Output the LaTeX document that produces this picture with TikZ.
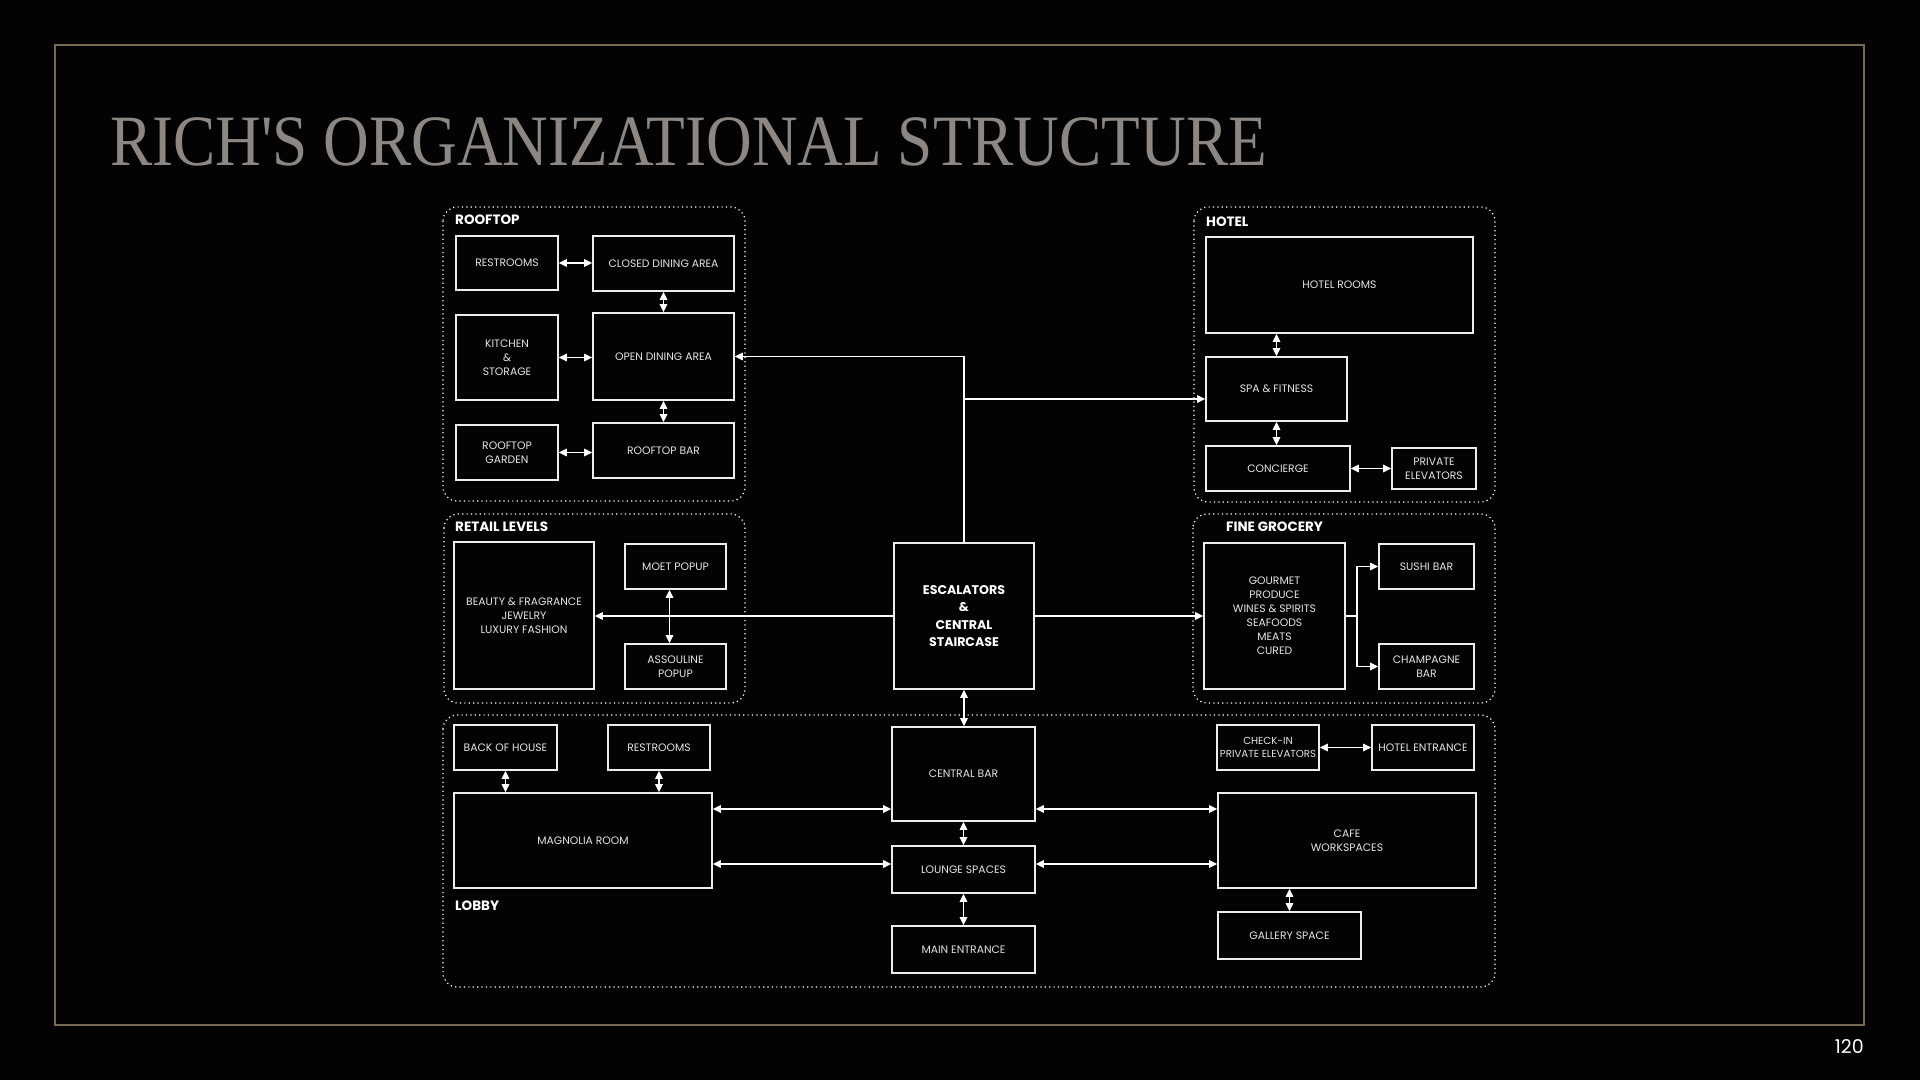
\documentclass[tikz,border=0pt]{standalone}
\usepackage{fontspec}
\setmainfont{Poppins}
\newfontfamily\titlefont{Liberation Serif}
\usetikzlibrary{arrows.meta,calc}
\definecolor{bg}{HTML}{030303}
\definecolor{framecol}{HTML}{766A55}
\definecolor{titlegray}{HTML}{8C8782}
\definecolor{boxline}{HTML}{EDEDED}
\definecolor{boxtext}{HTML}{E4E4E4}
\tikzset{
  box/.style={draw=boxline, line width=1.6pt, fill=bg, text=boxtext, font=\fontsize{10.8}{14}\selectfont, align=center, inner sep=0pt},
  grp/.style={draw=white, line width=1.2pt, dash pattern=on 1.2pt off 3.2pt, rounded corners=14pt},
  lnk/.style={draw=white, line width=1.4pt},
  arr/.style={lnk, -{Triangle[length=8pt,width=7.5pt]}},
  darr/.style={lnk, {Triangle[length=8pt,width=7.5pt]}-{Triangle[length=8pt,width=7.5pt]}},
  glabel/.style={font=\fontsize{13.5}{15}\selectfont\bfseries, text=white, anchor=west, inner sep=0pt},
}
\begin{document}
\begin{tikzpicture}[x=1pt,y=-1pt]
\path[use as bounding box, fill=bg] (0,0) rectangle (1920,1080);
\draw[framecol, line width=2pt] (55,45) rectangle (1864,1025);
\node[anchor=base west, inner sep=0pt, text=titlegray] (title) at (110,165)
  {\scalebox{0.91}[1.04]{\titlefont\fontsize{69.5}{70}\selectfont RICH'S ORGANIZATIONAL STRUCTURE}};
\node[anchor=east, inner sep=0pt, text=white, font=\fontsize{19}{22}\selectfont] (pnum) at (1864,1046) {120};

% groups
\draw[grp] (443,207) rectangle (745,501);
\draw[grp] (1194,207) rectangle (1495,502);
\draw[grp] (444,514) rectangle (745,703);
\draw[grp] (1193,514) rectangle (1495,703);
\draw[grp] (443,715) rectangle (1495,987);
\node[glabel] (lroof) at (455,220) {ROOFTOP};
\node[glabel] (lhotel) at (1206,222) {HOTEL};
\node[glabel] (lretail) at (455,527) {RETAIL LEVELS};
\node[glabel] (lgroc) at (1226,527) {FINE GROCERY};
\node[glabel] (llobby) at (455,906) {LOBBY};

% rooftop
\node[box, minimum width=102pt, minimum height=54pt] (rrest) at (507,263) {RESTROOMS};
\node[box, minimum width=141pt, minimum height=55pt] (rclosed) at (663.5,263.5) {CLOSED DINING AREA};
\node[box, minimum width=102pt, minimum height=85pt] (rkitchen) at (507,357.5) {KITCHEN\\\&\\STORAGE};
\node[box, minimum width=141pt, minimum height=87pt] (ropen) at (663.5,356.5) {OPEN DINING AREA};
\node[box, minimum width=102pt, minimum height=55pt] (rgarden) at (507,452.5) {ROOFTOP\\GARDEN};
\node[box, minimum width=141pt, minimum height=55pt] (rbar) at (663.5,450.5) {ROOFTOP BAR};

% hotel
\node[box, minimum width=267pt, minimum height=96pt] (hrooms) at (1339.5,285) {HOTEL ROOMS};
\node[box, minimum width=141pt, minimum height=64pt] (hspa) at (1276.5,389) {SPA \& FITNESS};
\node[box, minimum width=144pt, minimum height=45pt] (hconc) at (1278,468.5) {CONCIERGE};
\node[box, minimum width=84pt, minimum height=41pt] (helev) at (1434,468.5) {PRIVATE\\ELEVATORS};

% retail
\node[box, minimum width=140pt, minimum height=147pt] (rbeauty) at (524,615.5) {BEAUTY \& FRAGRANCE\\JEWELRY\\LUXURY FASHION};
\node[box, minimum width=101pt, minimum height=45pt] (rmoet) at (675.5,566.5) {MOET POPUP};
\node[box, minimum width=101pt, minimum height=45pt] (rassou) at (675.5,666.5) {ASSOULINE\\POPUP};

% escalators
\node[box, minimum width=140pt, minimum height=146pt, font=\fontsize{12.6}{17.5}\selectfont\bfseries, text=white] (esc) at (964,616) {ESCALATORS\\\&\\CENTRAL\\STAIRCASE};

% grocery
\node[box, minimum width=141pt, minimum height=146pt] (ggour) at (1274.5,616) {GOURMET\\PRODUCE\\WINES \& SPIRITS\\SEAFOODS\\MEATS\\CURED};
\node[box, minimum width=95pt, minimum height=45pt] (gsushi) at (1426.5,566.5) {SUSHI BAR};
\node[box, minimum width=95pt, minimum height=45pt] (gchamp) at (1426.5,666.5) {CHAMPAGNE\\BAR};

% lobby
\node[box, minimum width=103pt, minimum height=45pt] (lback) at (505.5,747.5) {BACK OF HOUSE};
\node[box, minimum width=102pt, minimum height=45pt] (lrest) at (659,747.5) {RESTROOMS};
\node[box, minimum width=258pt, minimum height=95pt] (lmag) at (583,840.5) {MAGNOLIA ROOM};
\node[box, minimum width=143pt, minimum height=94pt] (cbar) at (963.5,774) {CENTRAL BAR};
\node[box, minimum width=143pt, minimum height=47pt] (clounge) at (963.5,869.5) {LOUNGE SPACES};
\node[box, minimum width=143pt, minimum height=47pt] (cmain) at (963.5,949.5) {MAIN ENTRANCE};
\node[box, minimum width=102pt, minimum height=45pt, font=\fontsize{10.2}{13.5}\selectfont] (lcheck) at (1268,747.5) {CHECK-IN\\PRIVATE ELEVATORS};
\node[box, minimum width=102pt, minimum height=45pt] (lhotent) at (1423,747.5) {HOTEL ENTRANCE};
\node[box, minimum width=258pt, minimum height=95pt] (lcafe) at (1347,840.5) {CAFE\\WORKSPACES};
\node[box, minimum width=143pt, minimum height=47pt] (lgallery) at (1289.5,935.5) {GALLERY SPACE};

% rooftop links
\draw[darr] (rrest.east) -- (rrest.east -| rclosed.west);
\draw[darr] (rclosed.south) -- (rclosed.south |- ropen.north);
\draw[darr] (rkitchen.east) -- (rkitchen.east -| ropen.west);
\draw[darr] (ropen.south) -- (ropen.south |- rbar.north);
\draw[darr] (rgarden.east) -- (rgarden.east -| rbar.west);

% hotel links
\draw[darr] (hspa.north) -- (hspa.north |- hrooms.south);
\draw[darr] (hspa.south) -- (hspa.south |- hconc.north);
\draw[darr] (hconc.east) -- (hconc.east -| helev.west);

% escalator links
\coordinate (spaIn) at ([yshift=-10pt]hspa.west);
\draw[arr] (esc.north) |- (ropen.east);
\draw[arr] (esc.north |- spaIn) -- (spaIn);
\draw[arr] (esc.west) -- (esc.west -| rbeauty.east);
\draw[arr] (esc.east) -- (esc.east -| ggour.west);
\draw[darr] (esc.south) -- (esc.south |- cbar.north);

% retail
\draw[darr] ([xshift=-6pt]rmoet.south) -- ([xshift=-6pt]rmoet.south |- rassou.north);

% grocery
\coordinate (fork) at ($(ggour.east)+(11pt,0)$);
\draw[lnk] (ggour.east) -- (fork);
\draw[arr] (fork) |- (gsushi.west);
\draw[arr] (fork) |- (gchamp.west);

% lobby
\coordinate (yA) at (0,809);
\coordinate (yB) at (0,864);
\draw[darr] (lback.south) -- (lback.south |- lmag.north);
\draw[darr] (lrest.south) -- (lrest.south |- lmag.north);
\draw[darr] (lmag.east |- yA) -- (cbar.west |- yA);
\draw[darr] (lmag.east |- yB) -- (clounge.west |- yB);
\draw[darr] (cbar.east |- yA) -- (lcafe.west |- yA);
\draw[darr] (clounge.east |- yB) -- (lcafe.west |- yB);
\draw[darr] (cbar.south) -- (cbar.south |- clounge.north);
\draw[darr] (clounge.south) -- (clounge.south |- cmain.north);
\draw[darr] (lcheck.east) -- (lcheck.east -| lhotent.west);
\draw[darr] (lgallery.north) -- (lgallery.north |- lcafe.south);
\end{tikzpicture}
\end{document}
